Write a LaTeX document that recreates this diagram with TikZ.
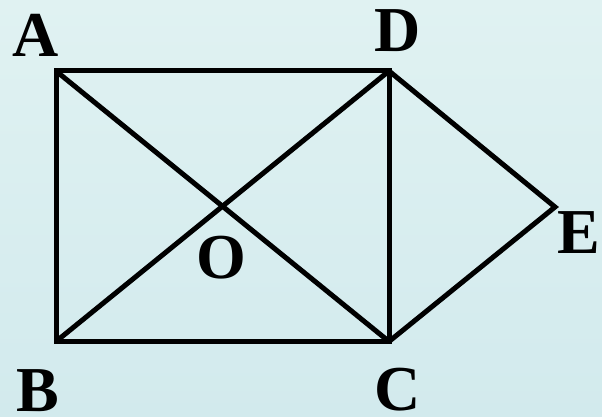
\documentclass[tikz,border=0pt]{standalone}
\usepackage{fontspec}
\setmainfont{Liberation Serif}
\begin{document}
\begin{tikzpicture}[x=1pt,y=-1pt,
  edge/.style={line width=5pt,line join=miter},
  lbl/.style={inner sep=0pt,text height=42pt,text depth=0pt,font=\fontsize{64}{64}\selectfont\bfseries}]
\shade[top color={rgb,255:red,224;green,242;blue,242},bottom color={rgb,255:red,210;green,234;blue,237}] (0,0) rectangle (602,417);
\useasboundingbox (0,0) rectangle (602,417);
\coordinate (A) at (56,71);
\coordinate (D) at (389,71);
\coordinate (B) at (56,341.5);
\coordinate (C) at (389,341.5);
\coordinate (E) at (555,207);
\draw[edge] (A) -- (D) -- (C) -- (B) -- cycle;
\draw[edge] (A) -- (C);
\draw[edge] (B) -- (D);
\draw[edge] (D) -- (E) -- (C);
\node[lbl] (lA) at (36,35.5) {A};
\node[lbl] (lD) at (397.5,30.5) {D};
\node[lbl] (lB) at (38,390) {B};
\node[lbl] (lC) at (398,389.5) {C};
\node[lbl] (lE) at (579,232) {E};
\node[lbl] (lO) at (221.5,257.5) {O};
\end{tikzpicture}
\end{document}
